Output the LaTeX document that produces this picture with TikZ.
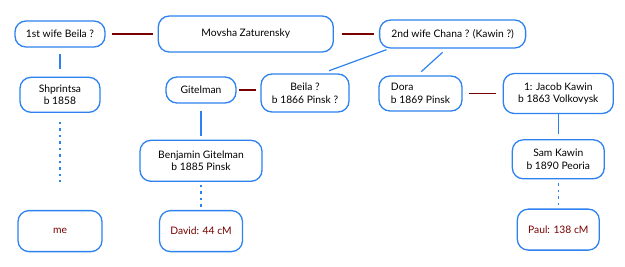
\documentclass[tikz,border=0pt]{standalone}
\usepackage{fontspec}
\setmainfont{Lato}
\usetikzlibrary{positioning, calc}
\definecolor{boxblue}{RGB}{45, 130, 240}
\definecolor{famred}{RGB}{120, 0, 0}

\begin{document}
\begin{tikzpicture}[
      x=1pt, y=-1pt,
      person/.style={rectangle, draw=boxblue, line width=1.3pt, rounded corners=11pt, fill=white, font=\fontsize{10.3}{12.5}\selectfont, align=center, inner sep=2pt},
      match/.style={person, text=famred},
      spouse/.style={draw=famred, line width=1.2pt},
      child/.style={draw=boxblue, line width=1.2pt},
      desc/.style={draw=boxblue, line width=1.4pt, dash pattern=on 2.5pt off 4pt}
    ]
      \useasboundingbox (0,0) rectangle (625,266);

      % top row
      \node[person, minimum width=90pt, minimum height=26pt] (wife1) at (60,34) {1st wife Beila ?};
      \node[person, minimum width=175pt, minimum height=36pt, right=52pt of wife1] (movsha) {Movsha Zaturensky};
      \node[person, minimum width=146pt, minimum height=28pt, right=45pt of movsha] (wife2) {2nd wife Chana ? (Kawin ?)};

      % left branch
      \node[person, minimum width=80pt, minimum height=35pt, below=29pt of wife1] (shprintsa) {Shprintsa\\b 1858};
      \node[match, minimum width=84pt, minimum height=41pt, below=97pt of shprintsa] (me) {me};

      % middle branch
      \node[person, minimum width=70pt, minimum height=26pt] (gitelman) at (201,90) {Gitelman};
      \node[person, minimum width=88pt, minimum height=38pt] (beila) at (305,93) {Beila ?\\b 1866 Pinsk ?};
      \node[person, minimum width=122pt, minimum height=41pt, below=36pt of gitelman] (benjamin) {Benjamin Gitelman\\b 1885 Pinsk};
      \node[match, minimum width=83pt, minimum height=41pt, below=28pt of benjamin] (david) {David: 44 cM};

      % right branch
      \node[person, minimum width=83pt, minimum height=35pt, align=left] (dora) at (420.5,93.5) {Dora\\b 1869 Pinsk};
      \node[person, minimum width=110pt, minimum height=40pt, right=40pt of dora] (jacob) {1: Jacob Kawin\\b 1863 Volkovysk};
      \node[person, minimum width=92pt, minimum height=39pt, below=25pt of jacob] (sam) {Sam Kawin\\b 1890 Peoria};
      \node[match, minimum width=82pt, minimum height=41pt, below=29pt of sam] (paul) {Paul: 138 cM};

      % marriages
      \draw[spouse, shorten <=6pt, shorten >=5pt] (wife1.east) -- (wife1.east -| movsha.west);
      \draw[spouse, shorten <=8pt, shorten >=5pt] (movsha.east) -- (movsha.east -| wife2.west);
      \draw[spouse, shorten <=2pt, shorten >=4pt] (gitelman.east) -- (gitelman.east -| beila.west);
      \draw[spouse, shorten <=6pt, shorten >=7pt] (dora.east) -- (dora.east -| jacob.west);

      % children
      \draw[child, shorten <=6pt, shorten >=8pt] (wife1) -- (shprintsa);
      \draw[child, shorten <=7pt, shorten >=4pt] (gitelman.south) -- (gitelman.south |- benjamin.north);
      \draw[child, shorten >=5pt] (jacob) -- (sam);
      \draw[child, shorten <=3pt, shorten >=7.5pt] ($(wife2.south west)!0.07!(wife2.south east)$) -- ($(beila.north west)!0.69!(beila.north east)$);
      \draw[child, shorten <=5.5pt, shorten >=5.5pt] ($(wife2.south west)!0.46!(wife2.south east)$) -- ($(dora.north west)!0.46!(dora.north east)$);

      % descendants
      \draw[desc, shorten <=9pt, shorten >=28pt] (shprintsa) -- (me);
      \draw[desc, shorten <=3pt, shorten >=3pt] (benjamin) -- (david);
      \draw[desc, shorten <=4pt, shorten >=3pt] (sam) -- (paul);
    \end{tikzpicture}
\end{document}
